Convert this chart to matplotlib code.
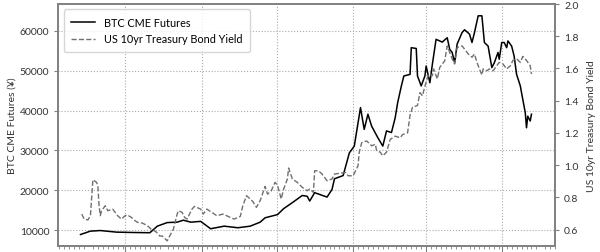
import pandas as pd
import matplotlib
matplotlib.use("Agg")
from matplotlib import pyplot as plt
import matplotlib.dates as mdates

# BTC CME futures (USD)
btc_dates = [
    "2020-05-26", "2020-06-03", "2020-06-11", "2020-06-24", "2020-07-09", "2020-07-21",
    "2020-07-27", "2020-08-04", "2020-08-12", "2020-08-17", "2020-08-23", "2020-08-31",
    "2020-09-08", "2020-09-19", "2020-09-30", "2020-10-10", "2020-10-18", "2020-10-22",
    "2020-11-01", "2020-11-06", "2020-11-13", "2020-11-21", "2020-11-25", "2020-11-27",
    "2020-12-01", "2020-12-11", "2020-12-15", "2020-12-17", "2020-12-24", "2020-12-29",
    "2021-01-02", "2021-01-07", "2021-01-10", "2021-01-13", "2021-01-16", "2021-01-21",
    "2021-01-25", "2021-01-28", "2021-02-01", "2021-02-04", "2021-02-06", "2021-02-09",
    "2021-02-11", "2021-02-16", "2021-02-17", "2021-02-21", "2021-02-22", "2021-02-25",
    "2021-02-28", "2021-03-01", "2021-03-04", "2021-03-06", "2021-03-09", "2021-03-14",
    "2021-03-18", "2021-03-20", "2021-03-22", "2021-03-24", "2021-03-26", "2021-03-30",
    "2021-04-01", "2021-04-05", "2021-04-07", "2021-04-09", "2021-04-12", "2021-04-15",
    "2021-04-17", "2021-04-20", "2021-04-23", "2021-04-25", "2021-04-28", "2021-04-29",
    "2021-05-01", "2021-05-03", "2021-05-05", "2021-05-06", "2021-05-09", "2021-05-11",
    "2021-05-13", "2021-05-16", "2021-05-18", "2021-05-20", "2021-05-21", "2021-05-22",
    "2021-05-24", "2021-05-25",
]
btc_values = [
    8900, 9750, 9900, 9500, 9400, 9350,
    11000, 11900, 12000, 12500, 12000, 12200,
    10350, 11000, 10600, 11000, 12000, 13100,
    13900, 15400, 16900, 18700, 18500, 17300,
    19400, 18300, 20200, 22900, 23700, 29400,
    31100, 40750, 35300, 39100, 36100, 33200,
    31100, 34900, 34500, 38200, 42000, 46200,
    48700, 49100, 55800, 55600, 48700, 46200,
    48700, 51200, 47000, 51600, 57900, 57200,
    58300, 55400, 54600, 52000, 56700, 59600,
    60300, 59200, 57100, 59600, 63800, 63800,
    57100, 56200, 50800, 52000, 54600, 52900,
    57100, 57100, 55800, 57500, 56200, 53700,
    49100, 46200, 42800, 39500, 35700, 38600,
    37400, 39100,
]

# US 10yr Treasury bond yield (%)
yield_dates = [
    "2020-05-27", "2020-05-29", "2020-06-01", "2020-06-03", "2020-06-05", "2020-06-08",
    "2020-06-09", "2020-06-10", "2020-06-11", "2020-06-12", "2020-06-15", "2020-06-17",
    "2020-06-21", "2020-06-23", "2020-06-25", "2020-06-28", "2020-07-01", "2020-07-03",
    "2020-07-06", "2020-07-09", "2020-07-11", "2020-07-15", "2020-07-19", "2020-07-22",
    "2020-07-26", "2020-07-29", "2020-07-31", "2020-08-04", "2020-08-06", "2020-08-09",
    "2020-08-12", "2020-08-13", "2020-08-16", "2020-08-18", "2020-08-20", "2020-08-24",
    "2020-08-26", "2020-08-31", "2020-09-02", "2020-09-05", "2020-09-09", "2020-09-13",
    "2020-09-18", "2020-09-22", "2020-09-27", "2020-10-02", "2020-10-04", "2020-10-07",
    "2020-10-10", "2020-10-12", "2020-10-15", "2020-10-18", "2020-10-22", "2020-10-24",
    "2020-10-27", "2020-10-30", "2020-11-01", "2020-11-04", "2020-11-06", "2020-11-09",
    "2020-11-10", "2020-11-13", "2020-11-17", "2020-11-21", "2020-11-25", "2020-11-27",
    "2020-11-30", "2020-12-01", "2020-12-04", "2020-12-07", "2020-12-11", "2020-12-15",
    "2020-12-17", "2020-12-23", "2020-12-26", "2020-12-28", "2021-01-01", "2021-01-05",
    "2021-01-06", "2021-01-08", "2021-01-12", "2021-01-16", "2021-01-19", "2021-01-20",
    "2021-01-23", "2021-01-25", "2021-01-28", "2021-01-31", "2021-02-04", "2021-02-08",
    "2021-02-10", "2021-02-14", "2021-02-16", "2021-02-18", "2021-02-22", "2021-02-24",
    "2021-02-26", "2021-02-28", "2021-03-03", "2021-03-06", "2021-03-07", "2021-03-10",
    "2021-03-12", "2021-03-16", "2021-03-18", "2021-03-20", "2021-03-22", "2021-03-24",
    "2021-03-26", "2021-03-30", "2021-04-01", "2021-04-04", "2021-04-07", "2021-04-09",
    "2021-04-11", "2021-04-13", "2021-04-15", "2021-04-16", "2021-04-19", "2021-04-21",
    "2021-04-24", "2021-04-27", "2021-04-29", "2021-05-02", "2021-05-05", "2021-05-08",
    "2021-05-10", "2021-05-13", "2021-05-16", "2021-05-18", "2021-05-21", "2021-05-24",
    "2021-05-25",
]
yield_values = [
    0.696, 0.665, 0.660, 0.686, 0.909, 0.893,
    0.872, 0.748, 0.686, 0.717, 0.748, 0.717,
    0.727, 0.707, 0.686, 0.665, 0.686, 0.690,
    0.676, 0.655, 0.645, 0.640, 0.624, 0.603,
    0.586, 0.560, 0.560, 0.530, 0.560, 0.603,
    0.696, 0.717, 0.707, 0.676, 0.665, 0.727,
    0.744, 0.727, 0.696, 0.727, 0.707, 0.686,
    0.696, 0.682, 0.665, 0.682, 0.748, 0.810,
    0.790, 0.775, 0.738, 0.779, 0.868, 0.820,
    0.841, 0.893, 0.876, 0.790, 0.852, 0.914,
    0.982, 0.914, 0.893, 0.862, 0.841, 0.852,
    0.831, 0.965, 0.965, 0.945, 0.903, 0.914,
    0.945, 0.951, 0.955, 0.934, 0.934, 0.996,
    1.080, 1.140, 1.150, 1.120, 1.130, 1.090,
    1.080, 1.058, 1.080, 1.160, 1.180, 1.170,
    1.190, 1.200, 1.310, 1.360, 1.370, 1.450,
    1.430, 1.490, 1.566, 1.555, 1.597, 1.535,
    1.607, 1.648, 1.740, 1.700, 1.660, 1.628,
    1.730, 1.740, 1.720, 1.690, 1.670, 1.690,
    1.638, 1.597, 1.560, 1.597, 1.586, 1.597,
    1.586, 1.617, 1.638, 1.628, 1.597, 1.617,
    1.650, 1.660, 1.638, 1.675, 1.650, 1.617,
    1.566,
]

btc = pd.Series(btc_values, index=pd.to_datetime(btc_dates))
tsy = pd.Series(yield_values, index=pd.to_datetime(yield_dates))

plt.rcParams['font.family'] = ['Lato', 'DejaVu Sans']
spine_col = '#808080'
text_col = '#333333'

fig = plt.figure(figsize=(6.0, 2.53), dpi=100)
ax1 = fig.add_axes([0.097, 0.025, 0.828, 0.955])
ax2 = ax1.twinx()

l1, = ax1.plot(btc.index, btc.values, color='black', lw=1.1, label='BTC CME Futures')
l2, = ax2.plot(tsy.index, tsy.values, color='#707070', lw=1.0, ls='--', label='US 10yr Treasury Bond Yield')

ax1.set_xlim(pd.Timestamp("2020-05-08"), pd.Timestamp("2021-06-13"))
ax1.set_ylim(6100, 66750)
ax2.set_ylim(0.5, 2.0)

# major ticks every other month (Jan, Mar, May...), minor every few days
ax1.xaxis.set_major_locator(mdates.MonthLocator(bymonth=[1, 3, 5, 7, 9, 11]))
ax1.xaxis.set_minor_locator(mdates.DayLocator(bymonthday=[5, 9, 13, 17, 21, 25, 29]))
ax1.tick_params(axis='x', labelbottom=False, length=4, color=spine_col)
ax1.tick_params(axis='x', which='minor', length=2, color=spine_col)
ax1.tick_params(axis='y', labelsize=7.5, length=3, color=spine_col, labelcolor=text_col)
ax2.tick_params(axis='y', labelsize=7.5, length=3, color=spine_col, labelcolor=text_col)

ax1.grid(True, ls=':', color='#aaaaaa', lw=0.8)

for ax in (ax1, ax2):
    for s in ax.spines.values():
        s.set_color(spine_col)
        s.set_linewidth(1.2)

ax1.set_ylabel('BTC CME Futures (¥)', fontsize=7.5, color=text_col, labelpad=2)
ax2.set_ylabel('US 10yr Treasury Bond Yield', fontsize=7.5, color=text_col, labelpad=6)

leg = ax1.legend([l1, l2], [l1.get_label(), l2.get_label()], loc='upper left',
                 fontsize=7.8, frameon=True, borderpad=0.7, handlelength=2.2)
leg.get_frame().set_edgecolor('#cccccc')

fig.savefig('out.png', dpi=100)
